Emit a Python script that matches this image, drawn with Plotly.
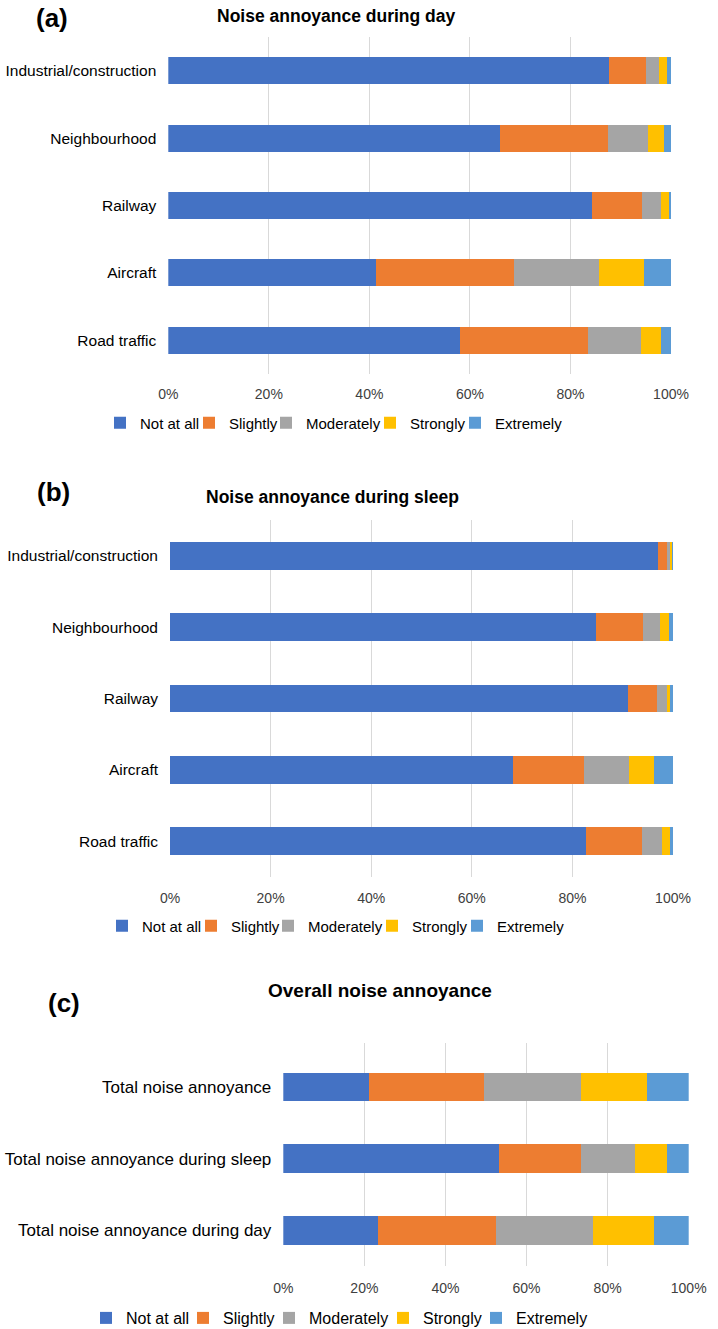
import plotly.graph_objects as go

levels = ["Not at all", "Slightly", "Moderately", "Strongly", "Extremely"]
colors = ["#4472C4", "#ED7D31", "#A5A5A5", "#FFC000", "#5B9BD5"]

# bottom -> top
sources = ["Road traffic", "Aircraft", "Railway", "Neighbourhood", "Industrial/construction"]

# Panel (a): noise annoyance during day (%), per level, ordered like `sources`
day_not_at_all = [58.0, 41.4, 84.3, 65.9, 87.7]
day_slightly = [25.4, 27.4, 9.9, 21.5, 7.3]
day_moderately = [10.6, 16.9, 3.9, 8.0, 2.7]
day_strongly = [4.1, 8.9, 1.5, 3.3, 1.6]
day_extremely = [1.9, 5.4, 0.4, 1.3, 0.7]

# Panel (b): noise annoyance during sleep (%)
sleep_not_at_all = [82.8, 68.2, 91.1, 84.6, 97.0]
sleep_slightly = [11.0, 14.2, 5.7, 9.4, 1.9]
sleep_moderately = [4.0, 8.9, 2.0, 3.5, 0.6]
sleep_strongly = [1.6, 4.9, 0.7, 1.7, 0.4]
sleep_extremely = [0.6, 3.8, 0.5, 0.8, 0.1]

# Panel (c): overall (bottom -> top)
overall_cats = ["Total noise annoyance during day", "Total noise annoyance during sleep", "Total noise annoyance"]
overall_not_at_all = [23.4, 53.3, 21.1]
overall_slightly = [29.1, 20.1, 28.3]
overall_moderately = [23.9, 13.4, 24.0]
overall_strongly = [15.0, 7.9, 16.3]
overall_extremely = [8.6, 5.3, 10.3]

tick_vals = [0, 20, 40, 60, 80, 100]
tick_text = ["0%", "20%", "40%", "60%", "80%", "100%"]

titles = ["Noise annoyance during day", "Noise annoyance during sleep", "Overall noise annoyance"]
panel_tags = ["(a)", "(b)", "(c)"]

W, H = 718, 1329
FONT = "Liberation Sans, Arial, Helvetica, sans-serif"

def px_x(v):
    return v / W

def px_y(v):
    return 1 - v / H

panels = [
    dict(cats=sources,
         data=[day_not_at_all, day_slightly, day_moderately, day_strongly, day_extremely],
         xdom=(168.3, 671), ydom=(37, 374), yrange=[-0.5, 4.5], bw=0.40, catfont=15.5,
         tick_standoff=10,
         legend_y=423, legend_font=15, legend_text_x=[140, 229, 306, 410, 495]),
    dict(cats=sources,
         data=[sleep_not_at_all, sleep_slightly, sleep_moderately, sleep_strongly, sleep_extremely],
         xdom=(170, 673), ydom=(520, 877), yrange=[-0.5, 4.5], bw=0.39, catfont=15.5,
         tick_standoff=11,
         legend_y=926, legend_font=15, legend_text_x=[142, 231, 308, 412, 497]),
    dict(cats=overall_cats,
         data=[overall_not_at_all, overall_slightly, overall_moderately, overall_strongly, overall_extremely],
         xdom=(283.3, 688.7), ydom=(1043, 1266), yrange=[-0.494, 2.61], bw=0.395, catfont=17,
         tick_standoff=12,
         legend_y=1318, legend_font=16, legend_text_x=[126, 223, 309, 423, 516]),
]

fig = go.Figure()
layout = dict(
    width=W, height=H, margin=dict(l=0, r=0, t=0, b=0, autoexpand=False),
    paper_bgcolor="white", plot_bgcolor="white",
    barmode="stack", font=dict(family=FONT, color="#000000"),
    showlegend=True,
)

annotations = []
legend_count = 0
for p, panel in enumerate(panels):
    suffix = "" if p == 0 else str(p + 1)
    xa, ya = "x" + suffix, "y" + suffix
    for i, lvl in enumerate(levels):
        legend_count += 1
        lg = "legend" if legend_count == 1 else "legend" + str(legend_count)
        fig.add_trace(go.Bar(
            x=panel["data"][i], y=panel["cats"], orientation="h",
            name=lvl, marker=dict(color=colors[i], line=dict(width=0)),
            width=panel["bw"], xaxis=xa, yaxis=ya, legend=lg,
            hoverinfo="skip",
        ))
        layout[lg] = dict(
            orientation="h", x=px_x(panel["legend_text_x"][i] - 40), xanchor="left",
            y=px_y(panel["legend_y"]), yanchor="middle",
            font=dict(size=panel["legend_font"], family=FONT, color="#000000"),
            itemwidth=30, bgcolor="rgba(0,0,0,0)", borderwidth=0,
            itemclick=False, itemdoubleclick=False,
        )
    layout["xaxis" + suffix] = dict(
        domain=[px_x(panel["xdom"][0]), px_x(panel["xdom"][1])],
        anchor=ya, range=[0, 100], tickvals=tick_vals, ticktext=tick_text,
        showgrid=True, gridcolor="#D9D9D9", gridwidth=1, zeroline=False,
        showline=False, ticks="", tickfont=dict(size=14, color="#404040", family=FONT),
        ticklabelstandoff=panel["tick_standoff"], fixedrange=True,
    )
    layout["yaxis" + suffix] = dict(
        domain=[px_y(panel["ydom"][1]), px_y(panel["ydom"][0])],
        anchor=xa, type="category", categoryorder="array", categoryarray=panel["cats"],
        range=panel["yrange"], showgrid=False, zeroline=False, showline=False,
        ticks="", tickfont=dict(size=panel["catfont"], color="#000000", family=FONT),
        ticklabelstandoff=11, fixedrange=True,
    )

tag_pos = [(52, 18), (53, 492), (64, 1003)]
title_pos = [(336, 16), (332, 497), (380, 990)]
title_sizes = [17.5, 17.5, 19]
for p in range(3):
    annotations.append(dict(
        text="<b>" + panel_tags[p] + "</b>", x=px_x(tag_pos[p][0]), y=px_y(tag_pos[p][1]),
        xref="paper", yref="paper", xanchor="center", yanchor="middle", showarrow=False,
        font=dict(size=26, family=FONT, color="#000000"),
    ))
    annotations.append(dict(
        text="<b>" + titles[p] + "</b>", x=px_x(title_pos[p][0]), y=px_y(title_pos[p][1]),
        xref="paper", yref="paper", xanchor="center", yanchor="middle", showarrow=False,
        font=dict(size=title_sizes[p], family=FONT, color="#000000"),
    ))

layout["annotations"] = annotations
fig.update_layout(**layout)
fig.write_html(
    "out.html",
    config=dict(displayModeBar=False),
    post_script="document.body.style.margin='0px'; document.body.style.overflow='hidden';",
)
